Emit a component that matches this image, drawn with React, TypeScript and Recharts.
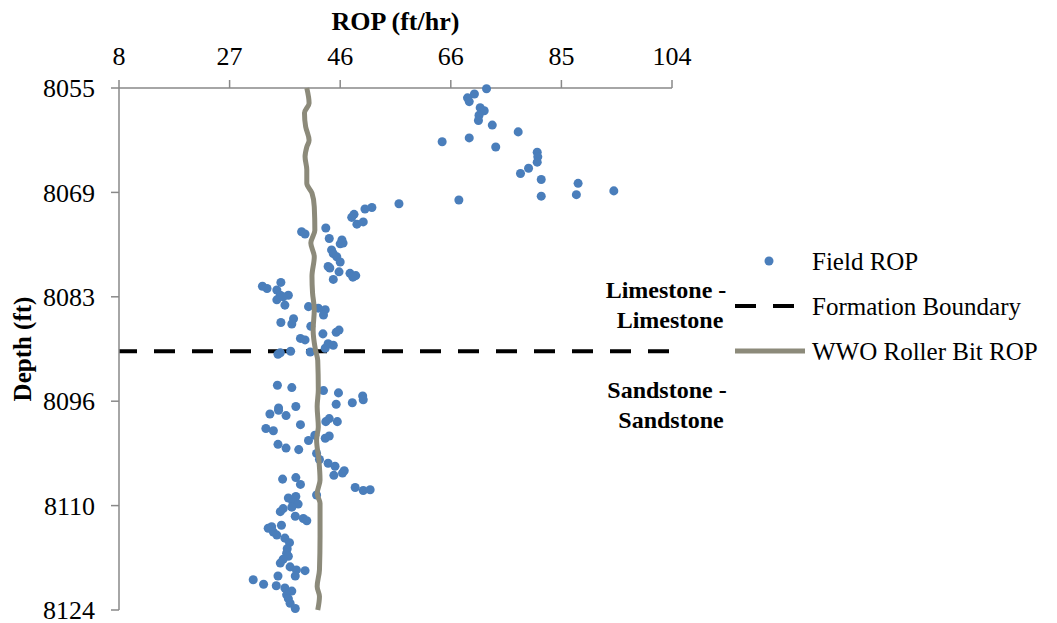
import { ScatterChart, Scatter, XAxis, YAxis, ReferenceLine } from 'recharts';

const FONT = '"Liberation Serif", "Times New Roman", serif';
const DOT_BLUE = '#4A7EBB';
const WWO_GREY = '#8C8A7A';
const AXIS_GREY = '#898989';

// axis ticks (labels are rounded)
const ropTicks = [8, 27.2, 46.4, 65.6, 84.8, 104];
const depthTicks = [8055, 8068.8, 8082.6, 8096.4, 8110.2, 8124];

// field measured ROP vs depth
const fieldRop = [
  71.8, 69.7, 68.5, 68.8, 70.7, 71.4, 70.5, 70.4, 72.8, 77.3,
  64.1, 68.8, 73.4, 80.6, 80.7, 80.6, 79.1, 77.7, 81.3, 87.7,
  93.9, 87.4, 81.3, 56.6, 67.0, 51.9, 50.7, 48.8, 49.3, 50.4,
  48.4, 39.7, 40.3, 43.9, 44.5, 46.7, 46.4, 46.9, 44.9, 45.2,
  45.8, 46.4, 44.3, 44.6, 46.2, 45.2, 48.1, 49.1, 48.6, 32.9,
  33.7, 36.1, 35.4, 36.0, 37.4, 35.4, 36.8, 36.5, 40.9, 42.6,
  43.8, 43.5, 36.1, 38.3, 38.0, 41.3, 43.4, 45.7, 46.2, 39.5,
  40.3, 44.3, 45.2, 43.8, 35.6, 36.0, 37.8, 41.2, 35.5, 38.0,
  43.5, 46.1, 50.3, 50.4, 48.5, 45.7, 35.7, 38.7, 34.2, 35.7,
  37.0, 39.5, 43.9, 44.5, 45.9, 33.5, 34.8, 40.9, 42.0, 43.8,
  44.5, 35.6, 37.0, 39.2, 42.3, 42.8, 44.3, 45.5, 45.3, 47.1,
  46.8, 36.4, 38.7, 39.5, 49.0, 50.4, 51.6, 42.3, 37.4, 38.7,
  38.2, 39.1, 36.5, 38.0, 36.0, 38.6, 40.0, 40.6, 36.2, 33.9,
  34.5, 34.8, 35.4, 36.8, 37.6, 37.2, 37.1, 37.4, 36.5, 36.0,
  37.7, 38.8, 40.3, 38.6, 35.6, 31.3, 33.1, 35.3, 36.8, 38.0,
  37.1, 37.4, 37.7, 38.6,
];
const fieldDepth = [
  8055.1, 8055.8, 8056.3, 8056.8, 8057.6, 8058.0, 8058.6, 8059.3, 8059.9, 8060.8,
  8062.1, 8061.6, 8062.8, 8063.5, 8064.1, 8064.8, 8065.6, 8066.3, 8067.1, 8067.6,
  8068.6, 8069.1, 8069.3, 8070.3, 8069.8, 8070.8, 8071.0, 8071.7, 8073.0, 8072.7,
  8072.1, 8074.0, 8074.3, 8073.5, 8074.9, 8075.1, 8075.6, 8075.5, 8076.4, 8076.9,
  8077.3, 8078.0, 8078.6, 8078.8, 8079.3, 8080.3, 8079.5, 8079.8, 8080.0, 8081.2,
  8081.5, 8080.7, 8081.7, 8082.4, 8082.4, 8083.0, 8083.7, 8082.6, 8083.9, 8084.1,
  8084.3, 8085.0, 8086.0, 8085.5, 8086.2, 8086.5, 8087.5, 8087.3, 8087.0, 8088.1,
  8088.3, 8088.8, 8089.0, 8089.4, 8090.2, 8090.0, 8089.8, 8089.9, 8094.3, 8094.6,
  8095.0, 8095.3, 8095.7, 8096.2, 8096.6, 8096.8, 8097.3, 8097.1, 8098.1, 8097.6,
  8098.3, 8099.5, 8099.1, 8098.7, 8099.1, 8100.0, 8100.3, 8101.6, 8100.9, 8101.3,
  8101.0, 8102.1, 8102.6, 8102.8, 8103.3, 8104.1, 8104.6, 8105.0, 8106.2, 8105.6,
  8105.9, 8106.7, 8106.5, 8107.4, 8107.8, 8108.2, 8108.1, 8108.8, 8109.2, 8109.0,
  8109.8, 8110.0, 8110.6, 8110.4, 8111.0, 8111.6, 8111.9, 8112.2, 8112.8, 8113.2,
  8113.0, 8113.7, 8114.1, 8114.5, 8115.1, 8115.9, 8116.5, 8116.9, 8117.3, 8117.8,
  8118.3, 8118.7, 8118.8, 8119.5, 8119.5, 8120.0, 8120.6, 8120.8, 8121.1, 8121.5,
  8122.0, 8122.5, 8123.1, 8123.8,
];

// modelled WWO roller bit ROP
const wwoRop = [
  40.6, 41.0, 40.2, 40.4, 41.0, 40.6, 40.3, 40.6, 40.6, 41.5,
  41.9, 42.0, 41.3, 41.9, 41.5, 41.6, 41.9, 41.7, 42.1, 42.5,
  42.6, 42.4, 42.6, 42.3, 42.7, 42.9, 42.4, 42.9, 42.9, 42.8,
  42.4, 42.8, 42.5,
];
const wwoDepth = [
  8055.0, 8057.0, 8058.3, 8060.1, 8061.9, 8062.8, 8064.1, 8065.8, 8067.6, 8068.9,
  8070.7, 8073.8, 8075.5, 8077.3, 8079.9, 8082.1, 8084.3, 8087.0, 8089.6, 8091.0,
  8094.9, 8097.1, 8099.8, 8101.5, 8104.2, 8106.8, 8108.6, 8109.9, 8114.3, 8118.7,
  8120.9, 8122.2, 8124.0,
];

const boundaryDepth = 8089.8;

const fieldData = fieldRop.map((rop, i) => ({ rop, depth: fieldDepth[i] }));
const wwoData = wwoRop.map((rop, i) => ({ rop, depth: wwoDepth[i] }));

const tickStyle = { fill: '#000', fontSize: 26, fontFamily: FONT };
const titleStyle = { fill: '#000', fontSize: 26, fontFamily: FONT, fontWeight: 'bold' as const };

export default function App() {
  return (
    <div style={{ position: 'relative', width: 1049, height: 615 }}>
      <ScatterChart width={1049} height={615} margin={{ top: 30, right: 385, bottom: 13, left: 0 }}>
        <XAxis
          type="number"
          dataKey="rop"
          orientation="top"
          domain={[8, 104]}
          ticks={ropTicks}
          interval={0}
          tickFormatter={(v: number) => String(Math.round(v))}
          height={50}
          tickSize={8}
          tickMargin={15}
          tick={tickStyle}
          stroke={AXIS_GREY}
          strokeWidth={1.5}
          label={{ value: 'ROP (ft/hr)', position: 'top', offset: 8, style: titleStyle }}
        />
        <YAxis
          type="number"
          dataKey="depth"
          reversed
          domain={[8055, 8124]}
          ticks={depthTicks}
          interval={0}
          tickFormatter={(v: number) => String(Math.round(v))}
          width={111}
          tickSize={8}
          tickMargin={16}
          tick={tickStyle}
          stroke={AXIS_GREY}
          strokeWidth={1.5}
          label={({ viewBox }: any) => (
            <text
              x={14}
              y={viewBox.y + viewBox.height / 2}
              transform={`rotate(-90, 14, ${viewBox.y + viewBox.height / 2})`}
              textAnchor="middle"
              dominantBaseline="central"
              style={{ ...titleStyle, fontSize: 25 }}
            >
              Depth (ft)
            </text>
          )}
        />
        <Scatter data={fieldData} fill={DOT_BLUE} isAnimationActive={false} />
        <ReferenceLine
          y={boundaryDepth}
          stroke="#000"
          strokeWidth={4}
          strokeDasharray="21 17"
          strokeDashoffset={3}
        />
        <Scatter
          data={wwoData}
          fill={WWO_GREY}
          line={{ stroke: WWO_GREY, strokeWidth: 5 }}
          lineType="joint"
          lineJointType="monotoneY"
          shape={() => <g />}
          isAnimationActive={false}
        />
      </ScatterChart>

      {/* legend and formation labels */}
      <svg
        width={1049}
        height={615}
        style={{ position: 'absolute', left: 0, top: 0, pointerEvents: 'none', fontFamily: FONT }}
      >
        <circle cx={761} cy={253} r={4.5} fill={DOT_BLUE} />
        <text x={804} y={253} fontSize={25} dominantBaseline="central">Field ROP</text>
        <line x1={727} y1={298} x2={787} y2={298} stroke="#000" strokeWidth={4} strokeDasharray="21 17" />
        <text x={804} y={298} fontSize={25} dominantBaseline="central">Formation Boundary</text>
        <line x1={727} y1={343} x2={797} y2={343} stroke={WWO_GREY} strokeWidth={5} />
        <text x={804} y={343} fontSize={25} dominantBaseline="central">WWO Roller Bit ROP</text>

        <g fontWeight="bold" fontSize={24} textAnchor="middle" dominantBaseline="central">
          <text x={658} y={282}>Limestone -</text>
          <text x={662} y={312}>Limestone</text>
          <text x={659} y={382}>Sandstone -</text>
          <text x={663} y={412}>Sandstone</text>
        </g>
      </svg>
    </div>
  );
}
